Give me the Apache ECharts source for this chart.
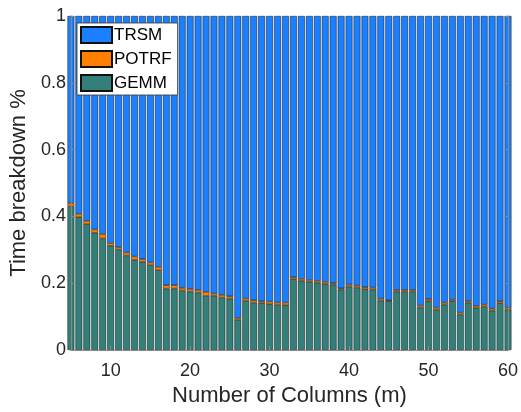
<!DOCTYPE html>
<html>
<head>
<meta charset="utf-8">
<script src="https://cdn.jsdelivr.net/npm/echarts@6/dist/echarts.min.js"></script>
<style>
  html, body { margin: 0; padding: 0; background: #fff; }
  #barChart { width: 521px; height: 412px; }
</style>
</head>
<body>
<div id="barChart"></div>
<script>
// number of columns m
const columns = [5, 6, 7, 8, 9, 10, 11, 12, 13, 14, 15, 16, 17, 18, 19, 20,
  21, 22, 23, 24, 25, 26, 27, 28, 29, 30, 31, 32, 33, 34, 35, 36, 37, 38, 39, 40,
  41, 42, 43, 44, 45, 46, 47, 48, 49, 50, 51, 52, 53, 54, 55, 56, 57, 58, 59, 60]

const gemm = [0.430, 0.398, 0.377, 0.351, 0.334, 0.312, 0.301, 0.283, 0.270, 0.264,
  0.254, 0.239, 0.184, 0.184, 0.178, 0.175, 0.172, 0.162, 0.162, 0.157,
  0.154, 0.090, 0.147, 0.142, 0.140, 0.137, 0.135, 0.134, 0.212, 0.207,
  0.204, 0.201, 0.198, 0.195, 0.181, 0.190, 0.187, 0.182, 0.181, 0.148,
  0.146, 0.175, 0.175, 0.175, 0.127, 0.146, 0.121, 0.136, 0.146, 0.106,
  0.142, 0.126, 0.130, 0.118, 0.140, 0.121]

const potrf = [0.010, 0.010, 0.010, 0.010, 0.013, 0.008, 0.007, 0.009, 0.010, 0.008,
  0.008, 0.010, 0.010, 0.010, 0.008, 0.008, 0.008, 0.012, 0.007, 0.008,
  0.007, 0.006, 0.007, 0.007, 0.006, 0.008, 0.007, 0.008, 0.006, 0.006,
  0.006, 0.006, 0.006, 0.005, 0.004, 0.006, 0.006, 0.006, 0.006, 0.006,
  0.003, 0.005, 0.005, 0.005, 0.006, 0.006, 0.006, 0.006, 0.005, 0.006,
  0.005, 0.006, 0.006, 0.006, 0.006, 0.006]

const trsm = [0.560, 0.592, 0.613, 0.639, 0.653, 0.680, 0.692, 0.708, 0.720, 0.728,
  0.738, 0.751, 0.806, 0.806, 0.814, 0.817, 0.820, 0.826, 0.831, 0.835,
  0.839, 0.904, 0.846, 0.851, 0.854, 0.855, 0.858, 0.858, 0.782, 0.787,
  0.790, 0.793, 0.796, 0.800, 0.815, 0.804, 0.807, 0.812, 0.813, 0.846,
  0.851, 0.820, 0.820, 0.820, 0.867, 0.848, 0.873, 0.858, 0.849, 0.888,
  0.853, 0.868, 0.864, 0.876, 0.854, 0.873]

const yTicks = [0, 0.2, 0.4, 0.6, 0.8, 1]

const font = '"Liberation Sans", Arial, sans-serif'

// value first so that the stack is done on the share, not on m
function pairs (values) {
  return columns.map((m, i) => [values[i], m])
}

function barSeries (name, values, color) {
  return {
    name: name,
    type: 'bar',
    stack: 'total',
    barWidth: '86%',
    encode: { x: 1, y: 0 },
    itemStyle: {
      color: color,
      borderColor: '#111',
      borderWidth: 0.5
    },
    emphasis: { disabled: true },
    data: pairs(values)
  }
}

const barChart = echarts.init(document.getElementById('barChart'))
barChart.setOption({
  animation: false,
  textStyle: { fontFamily: font },
  grid: { left: 67, right: 12, top: 16, bottom: 58 },
  legend: {
    orient: 'vertical',
    left: 77,
    top: 23,
    data: ['TRSM', 'POTRF', 'GEMM'],
    icon: 'rect',
    itemWidth: 31,
    itemHeight: 16,
    itemGap: 6,
    padding: [3, 6, 3, 3],
    backgroundColor: '#fff',
    borderColor: '#333',
    borderWidth: 0.8,
    textStyle: { fontFamily: font, fontSize: 17, color: '#000', padding: [0, 0, 0, -3] }
  },
  xAxis: [
    {
      type: 'value',
      min: 5,
      max: 60,
      z: 10,
      name: 'Number of Columns (m)',
      nameLocation: 'middle',
      nameGap: 35,
      nameTextStyle: { fontFamily: font, fontSize: 22, color: '#262626' },
      axisLine: { show: true, lineStyle: { color: '#888', width: 1 } },
      axisTick: { inside: true, length: 4, lineStyle: { color: '#888' } },
      axisLabel: { showMinLabel: false, fontSize: 18, color: '#262626', margin: 12 },
      splitLine: { show: false }
    }
  ],
  yAxis: [
    {
      type: 'value',
      min: 0,
      max: 1,
      interval: 0.2,
      z: 10,
      name: 'Time breakdown %',
      nameLocation: 'middle',
      nameGap: 38,
      nameTextStyle: { fontFamily: font, fontSize: 22, color: '#262626' },
      axisLine: { show: true, lineStyle: { color: '#888', width: 1 } },
      axisTick: { inside: true, length: 4, lineStyle: { color: '#888' } },
      axisLabel: {
        fontSize: 18,
        color: '#262626',
        margin: 5,
        formatter: v => String(yTicks.find(t => Math.abs(t - v) < 1e-9) ?? v)
      },
      splitLine: { show: false }
    },
    {
      type: 'value',
      min: 0,
      max: 1,
      interval: 0.2,
      position: 'right',
      z: 10,
      axisLine: { show: true, lineStyle: { color: '#888', width: 1 } },
      axisTick: { inside: true, length: 4, lineStyle: { color: '#888' } },
      axisLabel: { show: false },
      splitLine: { show: false }
    }
  ],
  series: [
    barSeries('GEMM', gemm, 'rgb(51,128,122)'),
    barSeries('POTRF', potrf, 'rgb(255,128,0)'),
    barSeries('TRSM', trsm, 'rgb(26,128,255)')
  ]
})
</script>
</body>
</html>
